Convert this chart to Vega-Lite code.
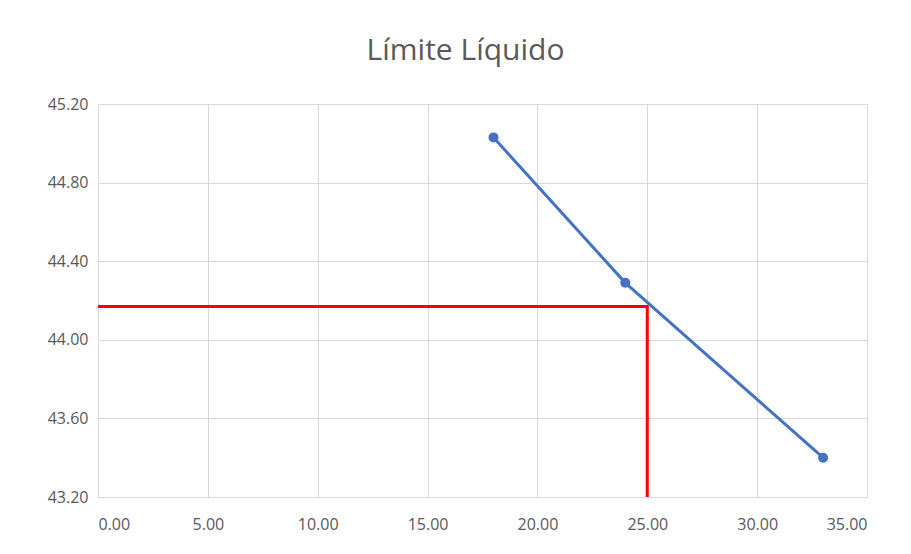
{
  "$schema": "https://vega.github.io/schema/vega-lite/v6.json",
  "width": 769,
  "height": 393,
  "autosize": {"type": "none"},
  "padding": {"left": 98, "top": 104, "right": 44, "bottom": 57},
  "background": "white",
  "title": {
    "text": "Límite Líquido",
    "font": "Open Sans",
    "fontSize": 30,
    "fontWeight": "normal",
    "color": "#595959",
    "anchor": "middle",
    "dx": -17,
    "offset": 30
  },
  "config": {
    "view": {"stroke": "#d9d9d9", "strokeWidth": 1},
    "axis": {
      "labelFont": "Open Sans",
      "labelFontSize": 16,
      "labelColor": "#595959",
      "gridColor": "#d9d9d9",
      "gridWidth": 1,
      "domain": false,
      "ticks": false,
      "title": null
    }
  },
  "datasets": {
    "serie": [
      {"x": 18, "y": 45.03},
      {"x": 24, "y": 44.29},
      {"x": 33, "y": 43.40}
    ],
    "guia": [
      {"orden": 1, "x": 0, "y": 44.17},
      {"orden": 2, "x": 25, "y": 44.17},
      {"orden": 3, "x": 25, "y": 43.2}
    ]
  },
  "layer": [
    {
      "data": {"name": "guia"},
      "mark": {"type": "line", "color": "#FF0000", "strokeWidth": 3, "clip": true},
      "encoding": {
        "x": {"field": "x", "type": "quantitative", "scale": {"domain": [0, 35], "nice": false},
              "axis": {"values": [0, 5, 10, 15, 20, 25, 30, 35], "format": ".2f", "labelPadding": 19}},
        "y": {"field": "y", "type": "quantitative", "scale": {"domain": [43.2, 45.2], "nice": false, "zero": false},
              "axis": {"values": [43.2, 43.6, 44.0, 44.4, 44.8, 45.2], "format": ".2f", "labelPadding": 10}},
        "order": {"field": "orden", "type": "quantitative"}
      }
    },
    {
      "data": {"name": "serie"},
      "mark": {"type": "line", "color": "#4472C4", "strokeWidth": 3,
               "point": {"filled": true, "size": 100, "color": "#4472C4"}},
      "encoding": {
        "x": {"field": "x", "type": "quantitative"},
        "y": {"field": "y", "type": "quantitative"}
      }
    }
  ]
}
